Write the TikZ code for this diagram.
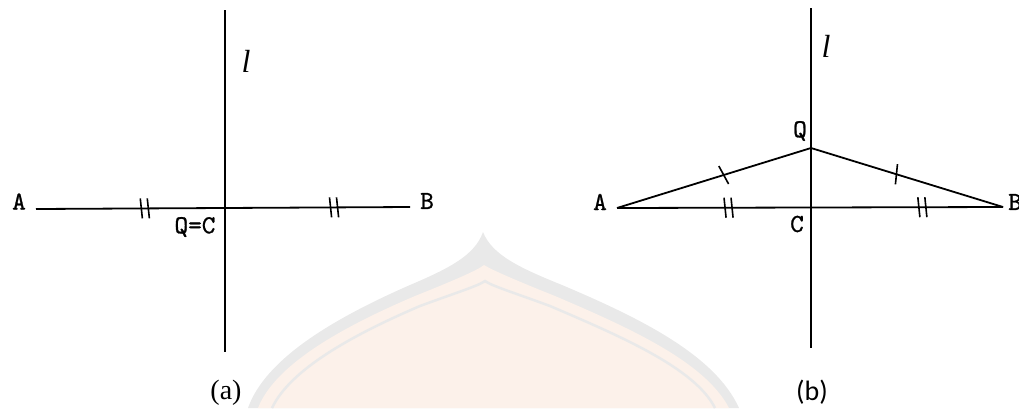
\documentclass[tikz,border=0pt]{standalone}
\usepackage{fontspec}
\setmainfont{Liberation Serif}
\setmonofont{lmmono10-regular.otf}[FakeBold=1]
\newfontfamily\capfont{Carlito}
\usetikzlibrary{decorations.markings,calc}
\definecolor{wmgray}{RGB}{233,233,233}
\definecolor{wmpeach}{RGB}{252,241,234}
\begin{document}
\begin{tikzpicture}[x=1pt,y=-1pt,
  geo/.style={line width=1.8pt},
  axisline/.style={line width=2pt},
  tk/.style={line width=1.6pt},
  lbl/.style={font=\ttfamily\fontsize{26}{26}\selectfont, inner sep=0pt},
  linelbl/.style={font=\itshape\fontsize{32}{32}\selectfont, inner sep=0pt},
  caplbl/.style={font=\fontsize{28}{28}\selectfont, inner sep=0pt},
  dbl/.style={postaction={decorate, decoration={markings,
     mark=at position #1 with {\draw[tk] (-4.5,-10) -- (-2.5,10); \draw[tk] (2.5,-10) -- (4.5,10);}}}},
  sgl/.style={postaction={decorate, decoration={markings,
     mark=at position #1 with {\draw[tk] (-2,-10) -- (2,10);}}}}
]
\useasboundingbox (0,0) rectangle (1019,408);
% faint watermark
\fill[wmgray] (248,408) .. controls (265,360) and (330,320) .. (410,285) .. controls (450,268) and (475,255) .. (483,232)
  .. controls (492,255) and (520,268) .. (562,285) .. controls (640,318) and (715,355) .. (739,408) -- cycle;
\fill[wmpeach] (258,408) .. controls (275,365) and (340,328) .. (415,296) .. controls (455,280) and (478,270) .. (484,265)
  .. controls (492,270) and (515,280) .. (555,296) .. controls (630,328) and (705,362) .. (729,408) -- cycle;
\draw[wmgray, line width=2.5pt] (272,408) .. controls (290,370) and (350,336) .. (420,306) .. controls (458,292) and (478,286) .. (485,281)
  .. controls (492,286) and (512,292) .. (550,306) .. controls (620,336) and (695,368) .. (715,408);

% ---------- (a) ----------
\coordinate (la1) at (225,10);
\coordinate (la2) at (225,352);
\coordinate (aA) at (36,209);
\coordinate (aB) at (410,207);
\draw[axisline] (la1) -- (la2);
\draw[geo, dbl=0.291] (aA) -- (aB);
\path[dbl=0.797] (aA) -- (aB);
\node[lbl] (nA) at (19,201.5) {A};
\node[lbl] (nB) at (427,201) {B};
\node[lbl] (nQC) at (195,227) {Q=C};
\node[linelbl] (nl) at (246,61) {l};
\node[caplbl] (capa) at (226,393) {(a)};

% ---------- (b) ----------
\coordinate (lb1) at (811,8);
\coordinate (lb2) at (811,348);
\coordinate (bA) at (617,208);
\coordinate (bB) at (1003,207);
\coordinate (bC) at (811,207.5);
\coordinate (bQ) at (811,148);
\draw[axisline] (lb1) -- (lb2);
\draw[geo, dbl=0.575] (bA) -- (bC);
\draw[geo, dbl=0.58] (bC) -- (bB);
\draw[geo, sgl=0.55] (bA) -- (bQ);
\draw[geo, sgl=0.445] (bQ) -- (bB);
\node[lbl] (mA) at (600,202) {A};
\node[lbl, anchor=west] (mB) at (1008,202) {B};
\node[lbl] (mQ) at (800,131) {Q};
\node[lbl] (mC) at (797,224) {C};
\node[linelbl] (ml) at (826,46) {l};
\node[caplbl, font=\capfont\fontsize{28}{28}\selectfont] (capb) at (812,392) {(b)};
\end{tikzpicture}
\end{document}
